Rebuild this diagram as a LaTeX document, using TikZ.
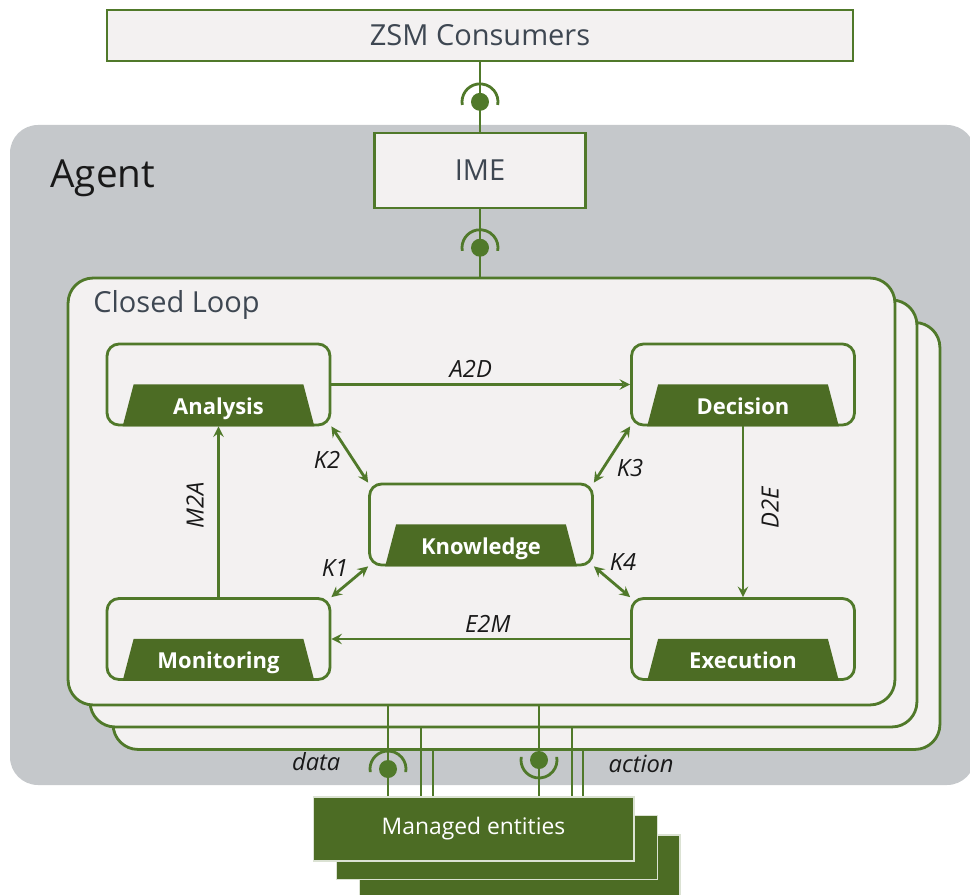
\documentclass[tikz,border=0pt]{standalone}
\usepackage{fontspec}
\setmainfont{Open Sans}
\usepackage{tikz}
\usetikzlibrary{calc}

\definecolor{agentgray}{HTML}{C5C8CB}
\definecolor{paper}{HTML}{F3F1F1}
\definecolor{loopgreen}{HTML}{50792A}
\definecolor{fngreen}{HTML}{4C6C24}
\definecolor{textgray}{HTML}{3E4752}

\tikzset{
	wire/.style = {draw = loopgreen, line width = 1.6pt},
	box/.style = {wire, fill = paper, inner sep = 0pt},
	fnbox/.style = {box, rounded corners = 0.24cm, minimum width = 4.46cm, minimum height = 1.62cm},
	loopbox/.style = {box, rounded corners = 0.5cm, minimum width = 16.54cm, minimum height = 8.54cm},
	mebox/.style = {fill = fngreen, draw = white!80!fngreen, line width = 0.6pt, minimum width = 6.42cm, minimum height = 1.28cm, inner sep = 0pt},
	flow/.style = {wire, -stealth},
	kflow/.style = {wire, stealth-stealth},
	lbl/.style = {font = \fontsize{13.5}{15}\selectfont\itshape, text = black!90, inner sep = 3pt},
	fnlabel/.style = {font = \fontsize{12.5}{15}\selectfont\bfseries, text = white, inner sep = 0pt},
	title/.style = {font = \fontsize{16.5}{20}\selectfont, text = textgray},
}

\begin{document}
\begin{tikzpicture}[x = 0.02cm, y = -0.02cm]
			\useasboundingbox (0,0) rectangle (970,895);
			\clip (0,0) rectangle (970,895);

			\fill [agentgray, rounded corners = 0.56cm] (10,125) rectangle (975,785);
			\node [font = \fontsize{22}{26}\selectfont, text = black!90, anchor = west, inner sep = 0pt] (agentlbl) at (50,178) {Agent};

			\node [box, title, minimum width = 14.92cm, minimum height = 1.02cm] (zsm) at (480,35.5) {ZSM Consumers};
			\node [box, title, minimum width = 4.22cm, minimum height = 1.5cm] (ime) at (480,170.5) {IME};

			\begin{scope}
				\node [loopbox] (loopC) at (526.5,536) {};
				\node [loopbox] (loopB) at (503.5,513.5) {};
				\node [loopbox] (loopA) at (481.5,491.5) {};
				\node [title, anchor = west, inner sep = 0pt] (looplbl) at (93,305) {Closed Loop};
			\end{scope}

			\begin{scope}
				\node [fnbox] (ana) at (218.5,384.5) {};
				\node [fnbox] (dec) at (743,384.5) {};
				\node [fnbox] (kno) at (481,524.5) {};
				\node [fnbox] (mon) at (218.5,639) {};
				\node [fnbox] (exe) at (743,639) {};

				\foreach \n/\t in {ana/Analysis, dec/Decision, kno/Knowledge, mon/Monitoring, exe/Execution} {
					\fill [fngreen] ($(\n.south west)+(17,0)$) -- ($(\n.south west)+(28,-42)$) -- ($(\n.south east)+(-28,-42)$) -- ($(\n.south east)+(-17,0)$) -- cycle;
					\node [fnlabel, anchor = base] (\n-t) at ($(\n.south)+(0,-12)$) {\t};
				}
			\end{scope}

			\begin{scope}
				\draw [flow] (ana) -- node [lbl, above, xshift = -0.2cm] (la2d) {A2D} (dec);
				\draw [flow] (dec) -- (exe);
				\draw [flow] (exe) -- node [lbl, above, xshift = 0.14cm] (le2m) {E2M} (mon);
				\draw [flow] (mon) -- (ana);

				\node [lbl, rotate = 90] (ld2e) at (770,508) {D2E};
				\node [lbl, rotate = 90] (lm2a) at (195,505) {M2A};

				\draw [kflow] (ana.south east) -- (kno.north west);
				\draw [kflow] (dec.south west) -- (kno.north east);
				\draw [kflow] (kno.south west) -- (mon.north east);
				\draw [kflow] (kno.south east) -- (exe.north west);

				\node [lbl] (lk2) at (327,460) {K2};
				\node [lbl] (lk3) at (630,468) {K3};
				\node [lbl] (lk1) at (335,568) {K1};
				\node [lbl] (lk4) at (623,562) {K4};
			\end{scope}

			\begin{scope}
				\node [mebox] (meC) at (519.5,867) {};
				\node [mebox] (meB) at (497,847.5) {};
				\node [mebox, text = white, font = \fontsize{13}{15}\selectfont] (me) at (473.5,829) {Managed entities};

				\foreach \x/\lp in {388/loopA, 421/loopB, 433/loopC, 539/loopA, 572/loopB, 583/loopC} {
					\coordinate (w) at (\x,0);
					\draw [wire] (\lp.south -| w) -- (me.north -| w);
				}

				\node [lbl, anchor = east] (ldata) at (346,762) {data};
				\node [lbl, anchor = west] (laction) at (603,764) {action};
			\end{scope}

			\begin{scope}
				\draw [wire] (zsm) -- coordinate [pos = 0.57] (b1) (ime);
				\draw [wire] (ime) -- coordinate [pos = 0.57] (b2) (ime |- loopA.north);
				\coordinate (bd) at (388,769);
				\coordinate (ba) at (539,760);

				\foreach \b in {b1, b2, bd} {
					\fill [loopgreen] (\b) circle (0.18cm);
					\draw [wire] (\b) ++(190:0.36cm) arc (190:-10:0.36cm);
				}
				\fill [loopgreen] (ba) circle (0.18cm);
				\draw [wire] (ba) ++(170:0.36cm) arc (170:370:0.36cm);
			\end{scope}
		\end{tikzpicture}
\end{document}
